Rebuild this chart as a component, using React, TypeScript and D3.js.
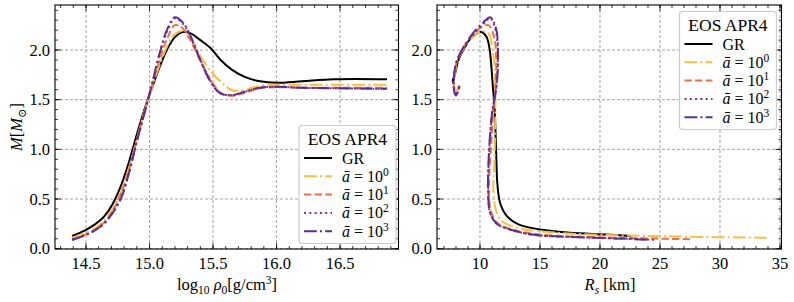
import React from 'react';
import * as d3 from 'd3';

// central density grid shared by all sequences (log10 rho0)
const rho = [14.39, 14.42, 14.45, 14.5, 14.57, 14.64, 14.71, 14.78, 14.84, 14.9, 14.96, 15.02, 15.08, 15.14, 15.2, 15.26, 15.32, 15.4, 15.48, 15.56, 15.65, 15.75, 15.87, 16.0, 16.2, 16.45, 16.87];

// masses (M_sun)
const massGR = [0.128, 0.143, 0.16, 0.19, 0.245, 0.32, 0.45, 0.65, 0.88, 1.15, 1.4, 1.62, 1.83, 2.01, 2.13, 2.18, 2.17, 2.1, 2.02, 1.9, 1.8, 1.73, 1.685, 1.67, 1.685, 1.705, 1.705];
const massA0 = [0.11, 0.122, 0.135, 0.16, 0.205, 0.28, 0.4, 0.59, 0.82, 1.1, 1.38, 1.62, 1.85, 2.04, 2.16, 2.19, 2.12, 1.94, 1.79, 1.68, 1.595, 1.6, 1.64, 1.65, 1.65, 1.65, 1.65];
const massA1 = [0.095, 0.105, 0.12, 0.145, 0.19, 0.26, 0.38, 0.57, 0.8, 1.09, 1.38, 1.64, 1.9, 2.12, 2.25, 2.22, 2.1, 1.89, 1.7, 1.57, 1.54, 1.57, 1.615, 1.625, 1.62, 1.62, 1.62];
const massA2 = [0.09, 0.1, 0.115, 0.14, 0.185, 0.25, 0.36, 0.53, 0.77, 1.08, 1.37, 1.66, 1.96, 2.19, 2.32, 2.27, 2.14, 1.9, 1.69, 1.565, 1.545, 1.58, 1.62, 1.63, 1.62, 1.615, 1.61];
const massA3 = [0.09, 0.1, 0.115, 0.14, 0.185, 0.25, 0.36, 0.52, 0.77, 1.08, 1.36, 1.66, 1.97, 2.21, 2.33, 2.28, 2.15, 1.9, 1.68, 1.56, 1.545, 1.58, 1.62, 1.63, 1.62, 1.615, 1.61];

// radii (km)
const radiusGR = [22.6, 20.5, 17.5, 15.2, 13.2, 12.3, 11.7, 11.45, 11.37, 11.3, 11.22, 11.08, 10.95, 10.8, 10.55, 10.15, 9.8, 9.1, 8.7, 8.2, 8.0, 7.85, 7.77, 7.75, 7.74, 7.74, 7.75];
const radiusA0 = [33.9, 26.5, 21.5, 16.5, 13.3, 11.8, 11.3, 11.12, 11.18, 11.25, 11.28, 11.28, 11.2, 11.0, 10.75, 10.2, 9.3, 8.3, 7.95, 7.85, 7.95, 8.1, 8.2, 8.22, 8.22, 8.22, 8.22];
const radiusA1 = [27.5, 23.5, 18.5, 14.8, 12.8, 11.45, 10.9, 10.75, 10.8, 10.95, 11.1, 11.3, 11.35, 11.2, 10.7, 10.0, 9.0, 8.1, 7.8, 7.9, 8.0, 8.15, 8.25, 8.28, 8.28, 8.27, 8.26];
const radiusA2 = [24.5, 22.5, 18.3, 14.5, 12.7, 11.4, 10.85, 10.7, 10.7, 10.82, 11.02, 11.38, 11.48, 11.32, 10.85, 10.35, 9.35, 8.1, 7.8, 7.9, 8.0, 8.15, 8.25, 8.28, 8.28, 8.27, 8.26];
const radiusA3 = [23.9, 22.0, 18.3, 14.5, 12.7, 11.4, 10.85, 10.68, 10.68, 10.8, 11.0, 11.4, 11.5, 11.35, 10.85, 10.3, 9.3, 8.1, 7.8, 7.9, 8.0, 8.15, 8.25, 8.28, 8.28, 8.27, 8.26];

const exponents = ['0', '1', '2', '3'];

const rhoTicks = [14.5, 15.0, 15.5, 16.0, 16.5];
const radiusTicks = [10, 15, 20, 25, 30, 35];
const massTicks = [0.0, 0.5, 1.0, 1.5, 2.0];

const FONT = 'Liberation Serif, DejaVu Serif, serif';
const TOP = 5;
const BOTTOM = 249;

const series = [
  { key: 'GR', mass: massGR, radius: radiusGR, color: '#000000', dash: undefined as string | undefined },
  { key: 'a0', mass: massA0, radius: radiusA0, color: '#f7be45', dash: '12.8,3.2,2,3.2' },
  { key: 'a1', mass: massA1, radius: radiusA1, color: '#ec7047', dash: '7.4,3.2' },
  { key: 'a2', mass: massA2, radius: radiusA2, color: '#8f2c80', dash: '2,3.3' },
  { key: 'a3', mass: massA3, radius: radiusA3, color: '#5a2f90', dash: '12.8,3.2,2,3.2' },
];

const y = d3.scaleLinear().domain([-0.003, 2.453]).range([BOTTOM, TOP]);
const xRho = d3.scaleLinear().domain([14.256, 16.96]).range([55, 398.5]);
const xRad = d3.scaleLinear().domain([6.417, 35.125]).range([437, 781.5]);

const Legend: React.FC<{ x: number; y: number }> = ({ x, y: y0 }) => {
  const w = 97, h = 118;
  return (
    <g>
      <rect x={x} y={y0} width={w} height={h} rx={3} fill="white" fillOpacity={0.92} stroke="#cccccc" strokeWidth={1.2} />
      <text x={x + w / 2} y={y0 + 19} textAnchor="middle" fontSize={17.5}>EOS APR4</text>
      {series.map((s, i) => {
        const cy = y0 + 32.5 + i * 18.3;
        return (
          <g key={s.key}>
            <line x1={x + 5} x2={x + 33} y1={cy} y2={cy} stroke={s.color} strokeWidth={2} strokeDasharray={s.dash} />
            {i === 0 ? (
              <text x={x + 43} y={cy + 5.5} fontSize={16}>GR</text>
            ) : (
              <text x={x + 43} y={cy + 5.5} fontSize={16}>
                <tspan fontStyle="italic">ā</tspan> = 10<tspan dy={-6} fontSize={11.5}>{exponents[i - 1]}</tspan>
              </text>
            )}
          </g>
        );
      })}
    </g>
  );
};

interface PanelProps {
  x: d3.ScaleLinear<number, number>;
  ticks: number[];
  minor: number[];
  fmt: (v: number) => string;
  useRadius: boolean;
  legend: { x: number; y: number };
  xLabel: React.ReactNode;
}

const Panel: React.FC<PanelProps> = ({ x, ticks, minor, fmt, useRadius, legend, xLabel }) => {
  const [x0, x1] = x.range();
  const line = d3.line<[number, number]>()
    .x(d => x(d[0]))
    .y(d => y(d[1]))
    .curve(d3.curveCatmullRom.alpha(0.5));
  const yMinor = d3.range(0, 2.45, 0.1);
  return (
    <g>
      {/* grid */}
      <g stroke="#8c8c8c" strokeWidth={0.8} strokeDasharray="3,2">
        {ticks.map(t => <line key={'gx' + t} x1={x(t)} x2={x(t)} y1={TOP} y2={BOTTOM} />)}
        {massTicks.map(t => <line key={'gy' + t} x1={x0} x2={x1} y1={y(t)} y2={y(t)} />)}
      </g>
      {/* curves */}
      {series.map(s => {
        const pts: [number, number][] = rho.map((r, i) => [useRadius ? s.radius[i] : r, s.mass[i]]);
        return (
          <path key={s.key} d={line(pts) || ''} fill="none" stroke={s.color} strokeWidth={2}
            strokeDasharray={s.dash} strokeLinejoin="round" />
        );
      })}
      {/* ticks */}
      <g stroke="#000" strokeWidth={0.8}>
        {ticks.map(t => (
          <g key={'tx' + t}>
            <line x1={x(t)} x2={x(t)} y1={BOTTOM} y2={BOTTOM - 6} />
            <line x1={x(t)} x2={x(t)} y1={TOP} y2={TOP + 6} />
          </g>
        ))}
        {minor.filter(m => m > x.domain()[0] && m < x.domain()[1]).map(m => (
          <g key={'mx' + m}>
            <line x1={x(m)} x2={x(m)} y1={BOTTOM} y2={BOTTOM - 3} />
            <line x1={x(m)} x2={x(m)} y1={TOP} y2={TOP + 3} />
          </g>
        ))}
        {massTicks.map(t => (
          <g key={'ty' + t}>
            <line x1={x0} x2={x0 + 6} y1={y(t)} y2={y(t)} />
            <line x1={x1} x2={x1 - 6} y1={y(t)} y2={y(t)} />
          </g>
        ))}
        {yMinor.map(m => (
          <g key={'my' + m}>
            <line x1={x0} x2={x0 + 3} y1={y(m)} y2={y(m)} />
            <line x1={x1} x2={x1 - 3} y1={y(m)} y2={y(m)} />
          </g>
        ))}
      </g>
      <rect x={x0} y={TOP} width={x1 - x0} height={BOTTOM - TOP} fill="none" stroke="#000" strokeWidth={1.1} />
      {/* tick labels */}
      {ticks.map(t => (
        <text key={'lx' + t} x={x(t)} y={268.5} textAnchor="middle" fontSize={16.5}>{fmt(t)}</text>
      ))}
      {massTicks.map(t => (
        <text key={'ly' + t} x={x0 - 5} y={y(t) + 5.5} textAnchor="end" fontSize={16.5}>{t.toFixed(1)}</text>
      ))}
      {xLabel}
      <Legend x={legend.x} y={legend.y} />
    </g>
  );
};

export default function App() {
  return (
    <svg width={794} height={302} style={{ position: 'absolute', left: 0, top: 0 }}>
      <rect width={794} height={302} fill="white" />
      <g fontFamily={FONT} fill="#000">
        <Panel
          x={xRho}
          ticks={rhoTicks}
          minor={d3.range(14.3, 17.0, 0.1)}
          fmt={v => v.toFixed(1)}
          useRadius={false}
          legend={{ x: 299, y: 125.5 }}
          xLabel={
            <text x={227} y={290} textAnchor="middle" fontSize={16.5}>
              log<tspan dy={4} fontSize={11.5}>10</tspan>
              <tspan dy={-4}> </tspan>
              <tspan fontStyle="italic">ρ</tspan><tspan dy={4} fontSize={11.5}>0</tspan>
              <tspan dy={-4}>[g/cm</tspan><tspan dy={-6} fontSize={11.5}>3</tspan><tspan dy={6}>]</tspan>
            </text>
          }
        />
        <Panel
          x={xRad}
          ticks={radiusTicks}
          minor={d3.range(7, 36, 1)}
          fmt={v => String(v)}
          useRadius={true}
          legend={{ x: 679.5, y: 11.5 }}
          xLabel={
            <text x={610} y={290} textAnchor="middle" fontSize={16.5}>
              <tspan fontStyle="italic">R</tspan><tspan dy={4} fontSize={11.5} fontStyle="italic">s</tspan>
              <tspan dy={-4}> [km]</tspan>
            </text>
          }
        />
        <text transform="translate(22,127) rotate(-90)" textAnchor="middle" fontSize={16.5}>
          <tspan fontStyle="italic">M</tspan>[<tspan fontStyle="italic">M</tspan>
          <tspan dy={4} fontSize={11.5}>⊙</tspan><tspan dy={-4}>]</tspan>
        </text>
      </g>
    </svg>
  );
}
